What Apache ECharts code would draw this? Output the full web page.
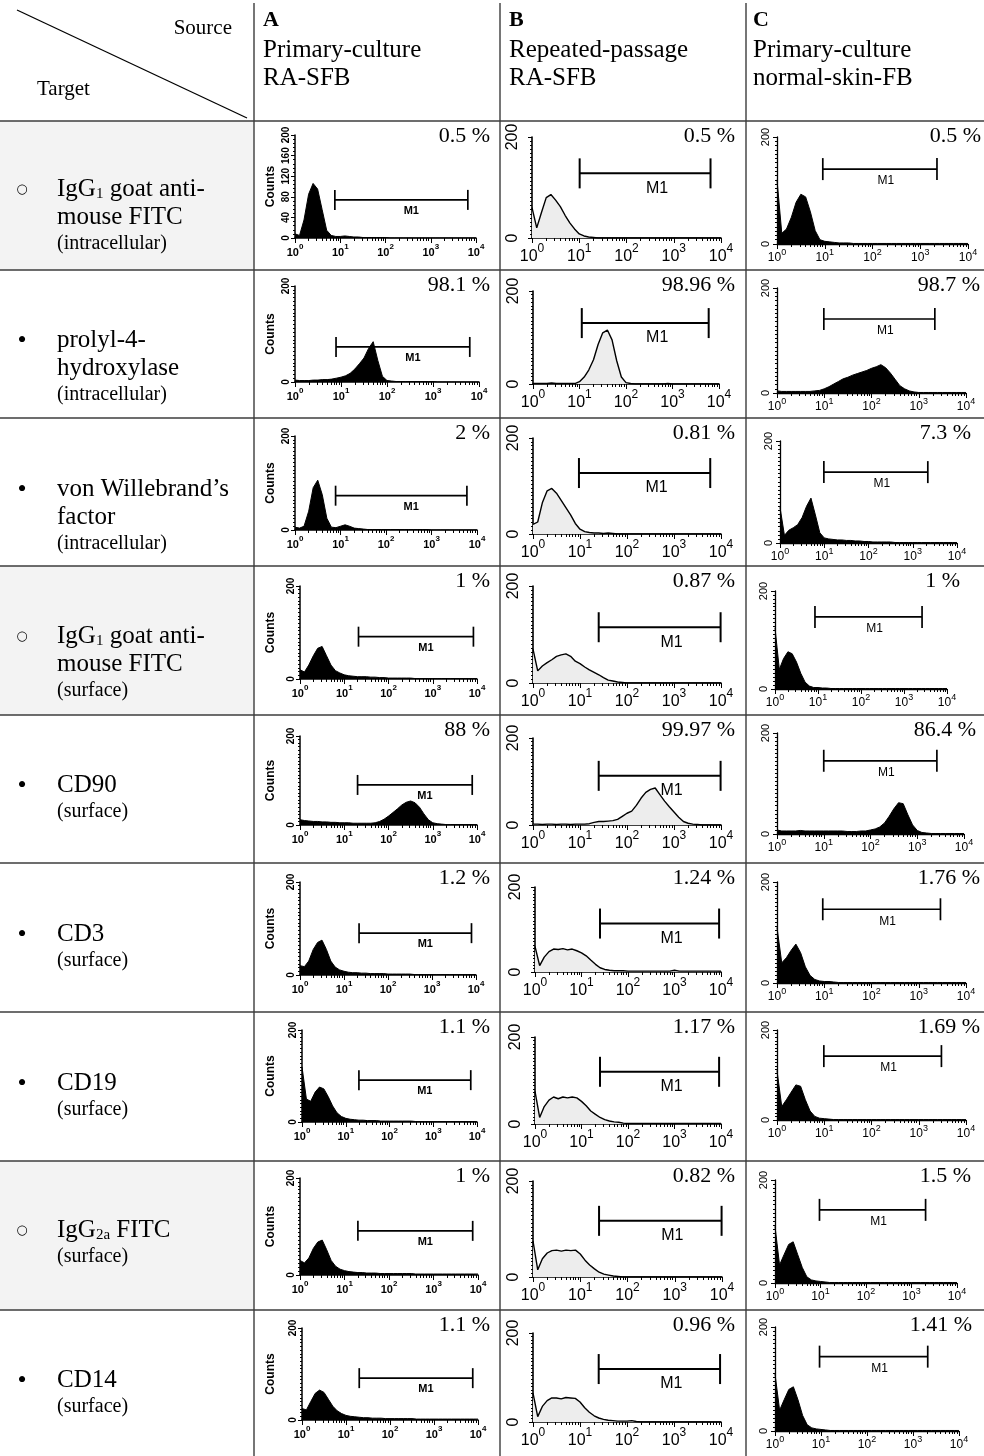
<!DOCTYPE html>
<html><head><meta charset="utf-8">
<script src="https://cdn.jsdelivr.net/npm/echarts@6/dist/echarts.min.js"></script>
<style>html,body{margin:0;padding:0;background:#fff}#c{width:984px;height:1456px}</style>
</head><body><div id="c"></div>
<script>
// ---------- DATA ----------
// fluorescence channels (log scale, 10^0 .. 10^4)
const channels = [1,1.26,1.58,2,2.51,3.16,3.98,5.01,6.31,7.94,
  10,12.6,15.8,20,25.1,31.6,39.8,50.1,63.1,79.4,
  100,126,158,200,251,316,398,501,631,794,
  1000,1259,1585,1995,2512,3162,3981,5012,6310,7943,10000];

const sourceLetters = ['A','B','C'];
const sourceNames = [['Primary-culture','RA-SFB'],['Repeated-passage','RA-SFB'],['Primary-culture','normal-skin-FB']];

const targetLines = [
  ['IgG{sb|1} goat anti-','mouse FITC','(intracellular)'],
  ['prolyl-4-','hydroxylase','(intracellular)'],
  ['von Willebrand\u2019s','factor','(intracellular)'],
  ['IgG{sb|1} goat anti-','mouse FITC','(surface)'],
  ['CD90','(surface)'],
  ['CD3','(surface)'],
  ['CD19','(surface)'],
  ['IgG{sb|2a} FITC','(surface)'],
  ['CD14','(surface)']
];
const isControl = [true,false,false,true,false,false,false,true,false];

const pctA = [0.5, 98.1, 2, 1, 88, 1.2, 1.1, 1, 1.1];
const pctB = [0.5, 98.96, 0.81, 0.87, 99.97, 1.24, 1.17, 0.82, 0.96];
const pctC = [0.5, 98.7, 7.3, 1, 86.4, 1.76, 1.69, 1.5, 1.41];

// M1 gates: [start, end, level]
const gatesA = [[7.6,6600,74],[7.8,6300,73],[7.8,6000,73],[21,8300,91],[20,7800,90],[22,7900,90],[20,7200,91],[20,7600,91],[20,7600,91]];
const gatesB = [[10.2,6000,128],[11.2,6000,131],[9.5,5900,127],[25,9800,115],[25,9800,113],[25,9100,114],[25,9100,120],[25,9800,117],[25,9550,119]];
const gatesC = [[9.1,2240,140],[9.8,2190,141],[9.8,2190,139],[8.5,2630,147],[10,2630,145],[9.3,2880,146],[9.8,3020,142],[9.5,2040,142],[9.3,2090,143]];

// counts per channel
const hA1 = [8,5,35,85,106,95,55,15,5,3, 3,4,3,2,2,1,1,1,1,1, 1,0,0,0,0,0,0,0,0,0, 0,0,0,0,0,0,0,0,0,0, 0];
const hA2 = [4,3,3,3,4,4,5,5,6,8, 10,13,18,27,38,50,70,84,45,12, 3,2,1,1,1,1,1,1,1,1, 1,0,0,0,0,0,0,0,0,0, 0];
const hA3 = [6,4,8,40,90,106,75,25,6,5, 8,11,8,4,3,2,1,1,1,1, 1,1,1,1,1,1,1,1,1,1, 0,0,0,0,0,0,0,0,0,0, 0];
const hA4 = [20,15,30,50,66,70,50,30,18,13, 9,7,6,5,5,5,4,4,3,3, 2,2,2,2,2,2,1,1,1,1, 1,1,1,1,1,1,1,1,1,1, 1];
const hA5 = [12,10,9,8,8,7,7,6,6,5, 5,5,4,4,4,4,4,5,8,13, 20,28,36,45,51,54,50,40,25,12, 5,3,2,1,1,1,1,1,1,1, 1];
const hA6 = [20,18,30,55,70,75,55,30,17,11, 8,6,5,5,4,4,3,3,3,3, 2,2,2,2,2,2,1,1,1,1, 1,1,1,1,1,1,1,1,1,1, 1];
const hA7 = [120,50,45,65,76,72,55,35,20,12, 8,6,5,4,4,3,3,3,2,2, 2,2,2,2,2,2,1,1,1,1, 1,1,1,1,1,1,1,1,1,1, 1];
const hA8 = [30,25,35,55,68,72,52,30,18,12, 9,7,6,5,5,4,4,4,3,3, 3,3,3,3,3,3,2,2,2,2, 2,2,2,2,2,2,2,2,2,2, 2];
const hA9 = [25,22,40,58,65,60,45,30,20,14, 10,8,7,6,5,5,4,4,4,3, 3,3,3,3,3,3,2,2,2,2, 2,2,2,2,2,2,2,2,2,2, 2];

const hB1 = [60,20,50,80,86,75,62,45,30,18, 8,4,2,1,0,0,0,0,0,0, 0,0,0,0,0,0,0,0,0,0, 0,0,0,0,0,0,0,0,0,0, 0];
const hB2 = [1,1,1,1,2,1,1,1,1,1, 5,15,30,52,85,110,116,95,50,15, 3,1,0,0,0,0,0,0,0,1, 0,0,0,0,0,0,0,0,0,0, 0];
const hB3 = [20,25,65,90,95,85,70,55,40,22, 10,5,3,2,2,1,2,1,0,0, 0,0,0,0,0,0,0,0,0,0, 0,0,0,0,0,0,0,0,0,0, 0];
const hB4 = [70,25,35,42,48,55,58,60,55,45, 40,33,27,22,17,11,6,4,2,1, 0,0,0,0,0,0,0,0,0,0, 0,0,0,0,0,0,0,0,0,0, 0];
const hB5 = [2,2,1,2,2,1,2,2,1,2, 2,2,3,6,8,8,9,10,13,20, 27,32,45,62,75,82,85,70,55,42, 30,18,8,4,2,1,0,0,0,0, 0];
const hB6 = [60,15,35,48,54,53,55,52,54,50, 45,38,28,18,10,6,4,3,3,3, 2,2,2,2,2,2,2,2,2,2, 4,2,2,2,2,2,2,2,2,2, 2];
const hB7 = [75,15,40,55,62,58,62,60,62,60, 52,42,30,22,15,10,7,5,4,2, 1,1,1,1,1,1,1,1,1,1, 1,1,1,1,1,1,1,1,1,1, 1];
const hB8 = [75,15,38,50,55,56,54,56,55,56, 48,35,25,17,10,6,4,2,1,0, 0,0,0,0,0,0,0,0,0,0, 0,0,0,0,0,0,0,0,0,0, 0];
const hB9 = [65,12,35,48,54,54,52,55,54,53, 45,32,22,14,9,6,4,3,2,2, 2,3,1,0,0,0,0,0,0,0, 0,0,0,0,0,0,0,0,0,0, 0];

const hC1 = [120,20,28,50,78,93,88,60,25,8, 5,4,3,2,2,2,1,1,1,1, 1,1,1,1,1,1,1,1,1,1, 1,1,1,1,1,1,1,1,1,1, 1];
const hC2 = [4,3,3,3,3,3,3,3,4,5, 8,12,17,22,27,30,34,37,40,43, 47,50,54,48,38,26,14,8,4,2, 1,1,1,1,1,1,1,1,1,1, 1];
const hC3 = [70,15,25,30,36,50,72,88,55,20, 10,8,7,6,6,5,5,4,4,3, 3,2,2,2,2,2,1,1,1,1, 1,1,1,1,1,1,1,1,1,1, 1];
const hC4 = [125,40,62,76,72,55,32,14,6,3, 3,2,2,1,1,1,1,1,1,1, 1,1,1,1,1,1,1,1,1,1, 1,1,1,1,1,1,1,1,1,1, 1];
const hC5 = [8,6,6,6,6,7,6,6,6,6, 6,6,6,6,6,5,5,5,6,6, 8,10,14,22,35,50,62,60,38,18, 7,3,2,1,1,1,1,1,1,1, 1];
const hC6 = [110,40,50,65,77,60,32,15,7,4, 3,3,2,1,1,1,1,1,1,1, 1,1,1,1,1,1,1,1,1,1, 1,1,1,1,1,1,1,1,1,1, 1];
const hC7 = [110,30,45,62,78,75,45,20,8,4, 3,2,1,1,1,1,1,1,1,1, 1,1,1,1,1,1,1,1,1,1, 1,1,1,1,1,1,1,1,1,1, 1];
const hC8 = [110,35,55,75,80,55,30,12,6,4, 3,2,1,1,1,1,1,1,1,1, 1,1,1,1,1,1,1,1,1,1, 1,1,1,1,1,1,1,1,1,1, 1];
const hC9 = [110,40,60,80,85,60,30,12,6,4, 3,2,1,1,1,1,1,1,1,1, 1,1,1,1,1,1,1,1,1,1, 1,1,1,1,1,1,1,1,1,1, 1];

// ---------- LAYOUT ----------
const histograms = [
  [hA1,hB1,hC1],[hA2,hB2,hC2],[hA3,hB3,hC3],[hA4,hB4,hC4],[hA5,hB5,hC5],
  [hA6,hB6,hC6],[hA7,hB7,hC7],[hA8,hB8,hC8],[hA9,hB9,hC9]
];
const gates = [gatesA, gatesB, gatesC];
const pcts = [pctA, pctB, pctC];

const rowTops = [121,270,418,566,715,863,1012,1161,1310];
const colLines = [254,500,746];
const gridBoxes = [
 [[295,135,181,103],[532,137,189,101],[777,137,191,107]],
 [[295,286,184,96],[533,291,186,93],[777,288,189,105]],
 [[295,436,182,94],[533,438,188,96],[780,441,177,102]],
 [[300,586,177,93],[533,586,188,97],[775,591,172,98]],
 [[300,736,177,89],[533,738,188,87],[777,733,187,101]],
 [[300,882,176,93],[535,887,186,85],[777,882,189,101]],
 [[302,1030,175,92],[535,1037,186,87],[777,1030,189,90]],
 [[300,1178,178,97],[533,1181,189,96],[775,1180,182,103]],
 [[302,1328,176,92],[533,1333,188,89],[775,1327,184,104]]
];
const pctRight = [
 [490,735,981],[490,735,980],[490,735,971],[490,735,960],[490,735,976],
 [490,735,980],[490,735,980],[490,735,971],[490,735,972]
];
const labelY = [189,340,489,636,785,934,1083,1230,1380];

const SANS = '"Liberation Sans", Arial, Helvetica, sans-serif';
const SERIF = '"Liberation Serif", "Times New Roman", serif';

const colStyle = [
 {fw:'bold', tick:11, sup:8, supPad:4, ylab:10, ylabMargin:4, m1:11, m1w:'bold', cap:10, m1dx:10, m1dy:11, fill:'#000', lw:1, axisW:1.5, xMargin:5},
 {fw:'normal', tick:16, sup:12, supPad:6, ylab:16, ylabMargin:11, m1:16, m1w:'normal', cap:15, m1dx:12, m1dy:15, fill:'#ededed', lw:1.4, axisW:1.6, xMargin:5},
 {fw:'normal', tick:12, sup:9, supPad:4, ylab:11, ylabMargin:6, m1:12, m1w:'normal', cap:11, m1dx:6, m1dy:12, fill:'#000', lw:1, axisW:1.3, xMargin:4}
];

const grids = [], xAxes = [], yAxes = [], series = [];

for (let r = 0; r < 9; r++) {
  for (let c = 0; c < 3; c++) {
    const idx = r * 3 + c;
    const b = gridBoxes[r][c];
    const st = colStyle[c];
    grids.push({left: b[0], top: b[1], width: b[2], height: b[3], containLabel: false});
    xAxes.push({
      gridIndex: idx, type: 'log', logBase: 10, min: 1, max: 10000,
      axisLine: {show: true, onZero: false, lineStyle: {color: '#000', width: st.axisW}},
      axisTick: {show: true, length: 5, lineStyle: {color: '#000', width: 1}},
      minorTick: {show: true, splitNumber: 9, length: 3, lineStyle: {color: '#000', width: 1}},
      splitLine: {show: false}, minorSplitLine: {show: false},
      axisLabel: {
        margin: st.xMargin, color: '#000',
        formatter: function (v) { return '{b|10}{s|' + Math.round(Math.log10(v)) + '}'; },
        rich: {
          b: {fontSize: st.tick, fontWeight: st.fw, fontFamily: SANS, color: '#000', verticalAlign: 'bottom', padding: [st.supPad, 0, 0, 0]},
          s: {fontSize: st.sup, fontWeight: st.fw, fontFamily: SANS, color: '#000', verticalAlign: 'top'}
        }
      }
    });
    const first = (idx === 0);
    yAxes.push({
      gridIndex: idx, type: 'value', min: 0, max: 200, interval: first ? 40 : 200,
      axisLine: {show: true, lineStyle: {color: '#000', width: st.axisW}},
      axisTick: {show: true, length: 4, lineStyle: {color: '#000', width: 1}},
      minorTick: {show: true, splitNumber: first ? 5 : 25, length: 2, lineStyle: {color: '#000', width: 1}},
      splitLine: {show: false}, minorSplitLine: {show: false},
      axisLabel: {rotate: 90, fontSize: st.ylab, fontWeight: st.fw, fontFamily: SANS, color: '#000', margin: st.ylabMargin},
      name: c === 0 ? 'Counts' : '', nameLocation: 'middle', nameRotate: 90,
      nameGap: b[0] - 277,
      nameTextStyle: {fontSize: 12, fontWeight: 'bold', fontFamily: SANS, color: '#000'}
    });
    const h = histograms[r][c];
    series.push({
      type: 'line', xAxisIndex: idx, yAxisIndex: idx, silent: true,
      data: channels.map(function (x, i) { return [x, h[i]]; }),
      symbol: 'none', lineStyle: {color: '#000', width: st.lw},
      areaStyle: {color: st.fill, opacity: 1, origin: 'start'}, z: 3
    });
    series.push({
      type: 'custom', xAxisIndex: idx, yAxisIndex: idx, silent: true, clip: false, z: 4,
      data: [gates[c][r]],
      renderItem: function (params, api) {
        const p1 = api.coord([api.value(0), api.value(2)]);
        const p2 = api.coord([api.value(1), api.value(2)]);
        const y = p1[1];
        const ls = {stroke: '#000', lineWidth: c === 1 ? 2 : 1.7};
        return {type: 'group', children: [
          {type: 'line', shape: {x1: p1[0], y1: y, x2: p2[0], y2: y}, style: ls},
          {type: 'line', shape: {x1: p1[0], y1: y - st.cap, x2: p1[0], y2: y + st.cap}, style: ls},
          {type: 'line', shape: {x1: p2[0], y1: y - st.cap, x2: p2[0], y2: y + st.cap}, style: ls},
          {type: 'text', style: {text: 'M1', x: (p1[0] + p2[0]) / 2 + st.m1dx, y: y + st.m1dy,
            align: 'center', verticalAlign: 'middle', fontSize: st.m1, fontWeight: st.m1w, fontFamily: SANS, fill: '#000'}}
        ]};
      }
    });
  }
}

// ---------- TABLE / TEXT GRAPHICS ----------
const g = [];
for (let r = 0; r < 9; r++) {
  if (isControl[r]) {
    const bot = r < 8 ? rowTops[r + 1] : 1456;
    g.push({type: 'rect', z: -10, shape: {x: 0, y: rowTops[r], width: colLines[0], height: bot - rowTops[r]}, style: {fill: '#f3f3f3'}});
  }
}
rowTops.forEach(function (y) {
  g.push({type: 'line', z: 10, shape: {x1: 0, y1: y, x2: 984, y2: y}, style: {stroke: '#3c3c3c', lineWidth: 1.4}});
});
colLines.forEach(function (x) {
  g.push({type: 'line', z: 10, shape: {x1: x, y1: 3, x2: x, y2: 1456}, style: {stroke: '#3c3c3c', lineWidth: 1.4}});
});
g.push({type: 'line', z: 10, shape: {x1: 17, y1: 10, x2: 247, y2: 118}, style: {stroke: '#000', lineWidth: 1.3}});
g.push({type: 'text', z: 10, style: {text: 'Source', x: 232, y: 28, align: 'right', verticalAlign: 'middle', fontSize: 21, fontFamily: SERIF, fill: '#000'}});
g.push({type: 'text', z: 10, style: {text: 'Target', x: 37, y: 89, align: 'left', verticalAlign: 'middle', fontSize: 21, fontFamily: SERIF, fill: '#000'}});
const headX = [263, 509, 753];
for (let c = 0; c < 3; c++) {
  g.push({type: 'text', z: 10, style: {text: sourceLetters[c], x: headX[c], y: 20, align: 'left', verticalAlign: 'middle', fontSize: 22, fontWeight: 'bold', fontFamily: SERIF, fill: '#000'}});
  g.push({type: 'text', z: 10, style: {text: sourceNames[c][0], x: headX[c], y: 50, align: 'left', verticalAlign: 'middle', fontSize: 25, fontFamily: SERIF, fill: '#000'}});
  g.push({type: 'text', z: 10, style: {text: sourceNames[c][1], x: headX[c], y: 78, align: 'left', verticalAlign: 'middle', fontSize: 25, fontFamily: SERIF, fill: '#000'}});
}
for (let r = 0; r < 9; r++) {
  const lines = targetLines[r];
  let y = labelY[r];
  g.push({type: 'text', z: 10, style: {text: isControl[r] ? '\u25CB' : '\u2022', x: 22, y: y + 1, align: 'center', verticalAlign: 'middle',
    fontSize: isControl[r] ? 13 : 26, fontFamily: isControl[r] ? '"DejaVu Sans", sans-serif' : SERIF, fill: '#000'}});
  for (let i = 0; i < lines.length; i++) {
    const isSub = (i === lines.length - 1);
    if (i > 0) y += isSub ? 27 : 28;
    g.push({type: 'text', z: 10, style: {text: lines[i], x: 57, y: y, align: 'left', verticalAlign: 'middle',
      fontSize: isSub ? 20 : 25, fontFamily: SERIF, fill: '#000',
      rich: {sb: {fontSize: 15, fontFamily: SERIF, fill: '#000', verticalAlign: 'bottom'}}}});
  }
}
for (let r = 0; r < 9; r++) {
  for (let c = 0; c < 3; c++) {
    g.push({type: 'text', z: 10, style: {text: String(pcts[c][r]) + ' %', x: pctRight[r][c], y: rowTops[r] + 15,
      align: 'right', verticalAlign: 'middle', fontSize: 22, fontFamily: SERIF, fill: '#000'}});
  }
}

const chart = echarts.init(document.getElementById('c'), null, {renderer: 'canvas', width: 984, height: 1456});
chart.setOption({
  animation: false,
  backgroundColor: '#fff',
  grid: grids, xAxis: xAxes, yAxis: yAxes, series: series,
  graphic: {elements: g}
});
</script>
</body></html>
